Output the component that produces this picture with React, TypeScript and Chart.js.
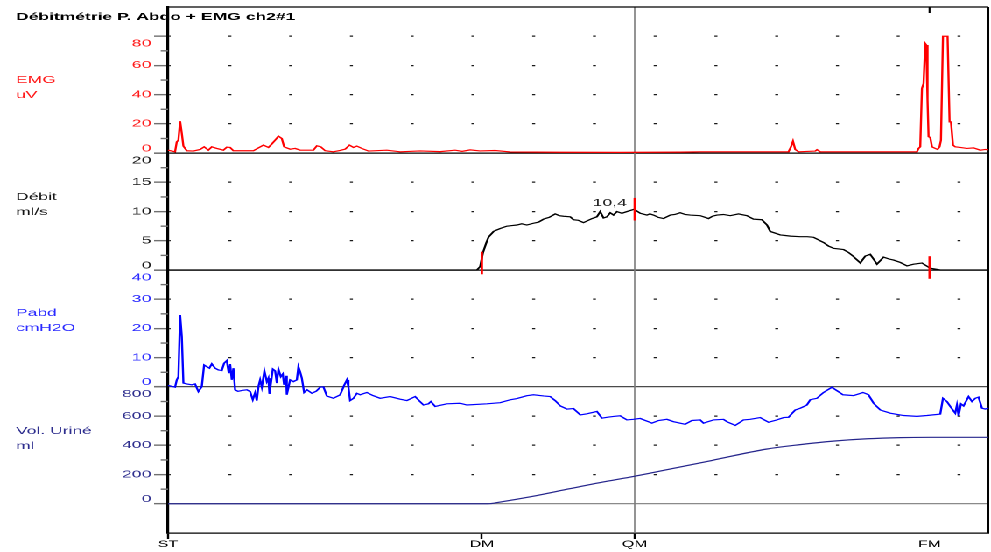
import { useEffect, useRef } from 'react';
import { Chart, registerables } from 'chart.js';

Chart.register(...registerables);

// ---------- data ----------
const TITLE = 'Débitmétrie P. Abdo + EMG ch2#1';
const X_MIN = 0;
const X_MAX = 135;
const GRID_STEP = 10;
const X_MARK_LABELS = ['ST', 'DM', 'QM', 'FM'];
const X_MARK_TIMES = [0, 51.65, 76.8, 125.33];

const EMG_T = [0, 1.15, 1.43, 1.70, 1.98, 2.26, 2.52, 3.08, 4.17, 5.27, 5.93, 6.63, 7.19, 8.02, 9.10, 9.66, 10.21, 10.75, 14.04, 15.69, 16.51, 17.07, 17.62, 18.16, 18.72, 19.10, 20.08, 20.91, 21.73, 23.92, 24.48, 25.14, 25.85, 27.21, 28.32, 29.14, 29.85, 30.51, 31.07, 31.89, 32.98, 36.00, 38.19, 41.49, 44.78, 47.25, 48.40, 49.72, 51.36, 53.83, 56.30, 64.54, 74.41, 84.29, 87.58, 102.12, 102.52, 102.85, 103.22, 103.77, 106.52, 106.80, 107.34, 116.12, 123.26, 123.52, 123.80, 124.08, 124.35, 124.62, 124.79, 125.00, 125.17, 125.45, 125.73, 126.27, 126.65, 126.98, 127.21, 127.54, 128.30, 128.63, 128.86, 129.19, 129.56, 130.39, 131.49, 132.58, 133.68, 134.50, 135];
const EMG_V = [2.0, 0.9, 7.7, 8.9, 21.9, 13.5, 4.8, 1.6, 1.4, 2.5, 4.3, 2.0, 4.3, 3.2, 2.0, 4.1, 3.9, 1.6, 1.6, 5.5, 3.9, 6.2, 8.9, 11.6, 10.0, 4.3, 2.7, 3.2, 2.0, 2.0, 5.0, 4.3, 1.6, 0.9, 1.8, 2.7, 5.5, 3.9, 4.8, 3.2, 1.4, 2.0, 0.9, 1.5, 1.0, 2.0, 1.2, 2.2, 1.5, 1.8, 0.8, 0.6, 0.5, 0.7, 0.9, 0.9, 4.3, 8.2, 2.5, 0.9, 1.4, 2.3, 0.9, 0.9, 0.9, 3.2, 4.3, 44.3, 47.7, 75, 74, 36.3, 11.2, 10.7, 4.3, 3.2, 2.5, 4.3, 8.9, 80, 80, 21.4, 21.4, 5.5, 4.3, 3.9, 3.2, 3.6, 2.0, 2.5, 2.3];

const FLOW_T = [0, 50.82, 51.37, 51.81, 52.35, 52.73, 53.56, 54.66, 55.76, 56.6, 57.41, 58.2, 59.05, 60.14, 61.0, 61.79, 62.7, 63.71, 64.4, 65.08, 66.18, 66.73, 67.5, 68.37, 69.76, 70.58, 71.12, 71.67, 72.23, 72.77, 73.31, 73.87, 74.70, 75.52, 76.72, 77.71, 78.81, 79.3, 79.90, 80.7, 81.54, 82.65, 83.4, 84.29, 85.1, 85.94, 87.59, 88.95, 89.6, 90.34, 91.4, 92.53, 93.89, 95.27, 96.36, 97.74, 98.57, 99.11, 100.76, 101.6, 102.40, 104.05, 105.2, 106.24, 107.89, 108.7, 109.53, 111.18, 112.0, 112.82, 113.93, 114.75, 115.57, 116.68, 117.76, 118.6, 119.41, 120.5, 121.62, 122.70, 124.08, 125.45, 127.10, 135];
const FLOW_V = [0, 0, 0.6, 2.9, 4.6, 5.6, 6.6, 7.1, 7.5, 7.6, 7.7, 7.9, 7.7, 8.0, 8.2, 8.7, 9.0, 9.6, 9.3, 9.2, 9.1, 8.6, 8.5, 8.1, 8.8, 9.1, 10.0, 8.9, 9.1, 9.8, 9.4, 10.0, 9.7, 10.0, 10.4, 9.7, 9.4, 9.6, 9.4, 9.0, 8.8, 9.4, 9.5, 9.8, 9.5, 9.4, 9.3, 8.8, 9.2, 9.4, 9.5, 9.3, 9.6, 9.3, 8.7, 8.6, 7.7, 6.6, 6.0, 5.9, 5.8, 5.7, 5.7, 5.6, 4.7, 4.1, 3.7, 3.5, 3.0, 2.3, 1.2, 2.4, 2.7, 1.0, 2.2, 1.9, 1.7, 1.3, 0.7, 1.0, 1.2, 0.3, 0, 0];

const FLOW_MARK_T = [51.65, 76.8, 125.33];
const FLOW_MARK_V = [1.2, 10.4, 0.43];
const QMAX_T = 76.8;
const QMAX_V = 10.4;
const QMAX_LABEL = '10,4';

const PABD_T = [0, 1.15, 1.43, 1.70, 1.98, 2.26, 2.52, 3.08, 3.90, 4.44, 4.99, 5.55, 5.93, 6.37, 6.80, 7.19, 7.74, 8.28, 8.84, 9.22, 9.66, 9.99, 10.21, 10.49, 10.75, 11.03, 11.52, 12.18, 12.96, 13.50, 13.94, 14.32, 14.60, 14.87, 15.15, 15.43, 15.85, 16.25, 16.51, 16.68, 17.24, 17.62, 17.90, 18.16, 18.55, 18.88, 19.10, 19.43, 19.54, 20.08, 20.63, 21.19, 21.45, 21.73, 22.01, 22.39, 22.88, 23.66, 24.37, 25.02, 25.57, 26.13, 27.21, 28.32, 28.97, 29.42, 29.68, 29.96, 30.51, 31.07, 31.61, 32.71, 33.75, 34.90, 36.55, 38.19, 39.30, 40.66, 42.03, 42.85, 43.25, 43.96, 45.88, 48.07, 49.18, 52.47, 54.66, 56.30, 57.41, 59.05, 60.14, 61.79, 62.89, 63.71, 64.54, 65.64, 66.73, 67.83, 68.93, 70.58, 71.40, 72.23, 73.31, 74.41, 75.52, 76.60, 77.71, 78.81, 79.63, 80.72, 82.10, 83.19, 85.11, 86.22, 87.59, 88.13, 89.77, 91.42, 91.98, 93.35, 94.71, 95.81, 97.46, 98.83, 100.21, 101.30, 102.12, 103.22, 104.05, 105.15, 105.69, 106.80, 107.88, 109.26, 110.09, 111.08, 112.82, 114.37, 115.29, 116.12, 117.22, 118.86, 121.05, 123.26, 124.90, 127.10, 127.54, 128.20, 128.74, 129.56, 129.84, 130.11, 130.50, 130.93, 131.75, 132.31, 132.86, 133.40, 133.96, 134.50, 135];
const PABD_V = [0.5, -0.1, 2.4, 3.5, 24.6, 17.2, 1.3, 1.0, 0.7, 1.0, -1.6, 0.1, 7.5, 6.9, 6.4, 7.9, 6.4, 5.8, 5.6, 8.1, 9.0, 4.7, 7.8, 2.4, 6.4, -1.0, -1.5, -1.2, -1.0, -1.6, -4.4, -2.0, -4.7, 0.1, 2.4, -0.1, 5.5, 1.8, 3.0, -2.4, 6.1, 5.5, 1.3, 6.1, 3.5, 4.4, 0.7, 3.8, -2.7, 2.4, 1.8, 2.4, 6.9, 5.2, 3.0, -1.9, -1.0, -2.2, -1.5, -0.1, 0.0, -3.1, -3.9, -2.7, 0.5, 2.4, 0.0, -4.7, -3.9, -2.2, -2.7, -1.9, -3.0, -3.9, -3.3, -4.2, -4.7, -3.3, -6.2, -5.8, -5.0, -6.7, -5.8, -5.6, -6.2, -5.8, -5.4, -4.4, -4.0, -3.0, -2.7, -3.1, -3.3, -4.7, -6.5, -7.6, -7.4, -9.6, -9.2, -8.4, -10.7, -10.4, -10.1, -9.9, -11.3, -11.1, -10.8, -11.7, -12.4, -11.5, -11.1, -11.9, -12.8, -11.5, -11.3, -12.4, -11.3, -11.1, -11.9, -13.2, -11.3, -11.1, -10.5, -12.1, -11.3, -10.5, -10.4, -7.9, -7.3, -6.2, -4.4, -3.9, -1.9, -0.1, -1.3, -2.7, -3.0, -1.9, -2.7, -5.6, -7.9, -9.0, -9.8, -10.1, -9.8, -9.3, -3.9, -5.0, -6.7, -9.0, -6.2, -9.9, -5.8, -6.5, -3.3, -5.0, -3.9, -3.5, -7.3, -7.6, -7.3];

const VOL_T = [0, 52.68, 54.66, 59.93, 66.10, 71.12, 76.72, 81.50, 89.56, 98.45, 104.05, 109.48, 115.08, 120.51, 125.45, 135];
const VOL_V = [0, 0, 12, 50, 103, 145, 188, 228, 297, 374, 405, 429, 445, 453, 455, 455];

const EMG_TICKS = [0, 20, 40, 60, 80];
const EMG_MINOR = [10, 30, 50, 70];
const FLOW_TICKS = [0, 5, 10, 15, 20];
const FLOW_MINOR = [2.5, 7.5, 12.5, 17.5];
const PABD_TICKS = [0, 10, 20, 30, 40];
const PABD_MINOR = [5, 15, 25, 35];
const VOL_TICKS = [0, 200, 400, 600, 800];
const VOL_MINOR = [100, 300, 500, 700];

// ---------- layout / style ----------
const FONT = "'Liberation Sans', Arial, Helvetica, sans-serif";
const CANVAS_W = 566;
const CANVAS_H = 552;
const STRETCH = 991 / CANVAS_W;
const AXIS_W = 96;
const X_AXIS_H = 19;
const DOT = 1.7;

const PANELS = [
  { id: 'yEmg', min: 0, max: 100, ticks: EMG_TICKS, minor: EMG_MINOR, color: '#ff1a1a', zeroColor: '#000000', stackWeight: 5, weight: 4, label: ['EMG', 'uV'], labelY: 80 },
  { id: 'yFlow', min: 0, max: 20, ticks: FLOW_TICKS, minor: FLOW_MINOR, color: '#151515', zeroColor: '#000000', stackWeight: 4, weight: 3, label: ['Débit', 'ml/s'], labelY: 197.3 },
  { id: 'yPabd', min: 0, max: 40, ticks: PABD_TICKS, minor: PABD_MINOR, color: '#2a2aff', zeroColor: '#4a4a4a', stackWeight: 4, weight: 2, label: ['Pabd', 'cmH2O'], labelY: 313.3 },
  { id: 'yVol', min: -200, max: 800, ticks: VOL_TICKS, minor: VOL_MINOR, color: '#2e2e8e', zeroColor: '#8a8a8a', stackWeight: 5, weight: 1, label: ['Vol. Uriné', 'ml'], labelY: 431 },
];

const pts = (ts: number[], vs: number[]) => ts.map((t, i) => ({ x: t, y: vs[i] }));

function gridPeriod(chart: any) {
  const xs = chart && chart.scales && chart.scales.x;
  if (!xs) return 34.7;
  const p = xs.getPixelForValue(GRID_STEP) - xs.getPixelForValue(0);
  return isFinite(p) && p > 2 ? p : 34.7;
}

function panelAxis(p: any) {
  const top = p.ticks[p.ticks.length - 1];
  const bottom = p.ticks[0];
  return {
    type: 'linear',
    position: 'left',
    stack: 'panels',
    stackWeight: p.stackWeight,
    weight: p.weight,
    min: p.min,
    max: p.max,
    afterBuildTicks: (s: any) => {
      s.ticks = p.ticks.map((v: number) => ({ value: v }));
    },
    afterFit: (s: any) => {
      s.width = AXIS_W;
      s.paddingTop = 0;
      s.paddingBottom = 0;
      s.paddingLeft = 0;
      s.paddingRight = 0;
    },
    ticks: {
      autoSkip: false,
      padding: 1.6,
      color: p.color,
      font: (c: any) => {
        const v = c.tick ? c.tick.value : null;
        return { family: FONT, size: 10, lineHeight: v === top ? 1.5 : v === bottom ? 0.9 : 1.2 };
      },
      callback: (v: number) => (v === top ? ['', String(v)] : v === bottom ? [String(v), ''] : String(v)),
    },
    grid: {
      display: true,
      drawOnChartArea: true,
      drawTicks: true,
      tickLength: 8,
      tickWidth: 1.4,
      tickColor: '#707070',
      color: (c: any) => {
        if (!c.tick) return 'rgba(0,0,0,0)';
        if (c.tick.value === 0) return p.zeroColor;
        if (c.tick.value === p.max) return 'rgba(0,0,0,0)';
        return '#1a1a1a';
      },
      lineWidth: 1.3,
    },
    border: {
      display: true,
      color: '#000000',
      width: 1.6,
      dash: (c: any) => (c.tick && c.tick.value !== 0 ? [DOT, gridPeriod(c.chart) - DOT] : []),
      dashOffset: DOT / 2,
    },
  };
}

const decorPlugin = {
  id: 'decor',
  beforeDatasetsDraw(chart: any) {
    const { ctx, chartArea: a, scales } = chart;
    const seg = (x1: number, y1: number, x2: number, y2: number) => {
      ctx.beginPath();
      ctx.moveTo(x1, y1);
      ctx.lineTo(x2, y2);
      ctx.stroke();
    };
    ctx.save();
    ctx.strokeStyle = '#707070';
    ctx.lineWidth = 1.4;
    for (const p of PANELS) {
      const s = scales[p.id];
      for (const v of p.minor) {
        const y = s.getPixelForValue(v);
        seg(a.left - 4.2, y, a.left, y);
      }
    }
    const xq = scales.x.getPixelForValue(X_MARK_TIMES[2]);
    ctx.strokeStyle = '#7a7a7a';
    ctx.lineWidth = 0.8;
    seg(xq, a.top, xq, a.bottom);
    ctx.strokeStyle = '#000000';
    ctx.lineWidth = 1.3;
    seg(a.left, a.top, a.right, a.top);
    ctx.lineWidth = 1.1;
    seg(a.right, a.top, a.right, a.bottom);
    const xf = scales.x.getPixelForValue(X_MARK_TIMES[3]);
    seg(xf, a.top, xf, a.top + 6);
    ctx.restore();
  },
  afterDraw(chart: any) {
    const { ctx, scales } = chart;
    ctx.save();
    ctx.textBaseline = 'middle';
    ctx.textAlign = 'left';
    ctx.fillStyle = '#000000';
    ctx.font = `bold 10px ${FONT}`;
    ctx.fillText(TITLE, 9.1, 17.3);
    ctx.font = `10px ${FONT}`;
    for (const p of PANELS) {
      ctx.fillStyle = p.color;
      p.label.forEach((line: string, i: number) => ctx.fillText(line, 9.1, p.labelY + i * 15));
    }
    const xq = scales.x.getPixelForValue(QMAX_T);
    const yq = scales.yFlow.getPixelForValue(QMAX_V);
    ctx.textAlign = 'right';
    ctx.fillStyle = '#222222';
    ctx.fillText(QMAX_LABEL, xq - 4.5, yq - 6);
    ctx.restore();
  },
};

export default function App() {
  const ref = useRef<HTMLCanvasElement | null>(null);

  useEffect(() => {
    if (!ref.current) return;
    const scales: any = {
      x: {
        type: 'linear',
        position: 'bottom',
        min: X_MIN,
        max: X_MAX,
        afterBuildTicks: (s: any) => {
          s.ticks = X_MARK_TIMES.map((v) => ({ value: v }));
        },
        afterFit: (s: any) => {
          s.height = X_AXIS_H;
          s.paddingLeft = 0;
          s.paddingRight = 0;
          s.paddingTop = 0;
          s.paddingBottom = 0;
        },
        ticks: {
          autoSkip: false,
          maxRotation: 0,
          minRotation: 0,
          padding: 0,
          color: '#000000',
          font: { family: FONT, size: 9 },
          callback: (_v: number, i: number) => X_MARK_LABELS[i],
        },
        grid: {
          display: true,
          drawOnChartArea: false,
          drawTicks: true,
          tickLength: 6,
          tickWidth: 1.2,
          tickColor: (c: any) => (c.index === 3 ? 'rgba(0,0,0,0)' : '#000000'),
        },
        border: { display: true, color: '#000000', width: 1.3 },
      },
    };
    for (const p of PANELS) scales[p.id] = panelAxis(p);

    const chart = new Chart(ref.current, {
      type: 'line',
      data: {
        datasets: [
          {
            label: 'Repères',
            data: pts(FLOW_MARK_T, FLOW_MARK_V),
            yAxisID: 'yFlow',
            showLine: false,
            clip: false,
            pointStyle: 'line',
            pointRotation: 90,
            pointRadius: 11.3,
            pointBorderColor: '#ff0000',
            pointBorderWidth: 1.3,
            pointBackgroundColor: '#ff0000',
          },
          {
            label: 'EMG',
            data: pts(EMG_T, EMG_V),
            yAxisID: 'yEmg',
            borderColor: '#ff0000',
            borderWidth: 1.2,
            pointRadius: 0,
            tension: 0,
            clip: false,
          },
          {
            label: 'Débit',
            data: pts(FLOW_T, FLOW_V),
            yAxisID: 'yFlow',
            borderColor: '#000000',
            borderWidth: 1.2,
            pointRadius: 0,
            tension: 0,
            clip: false,
          },
          {
            label: 'Pabd',
            data: pts(PABD_T, PABD_V),
            yAxisID: 'yPabd',
            borderColor: '#0000ff',
            borderWidth: 1.2,
            pointRadius: 0,
            tension: 0,
            clip: false,
          },
          {
            label: 'Vol. Uriné',
            data: pts(VOL_T, VOL_V),
            yAxisID: 'yVol',
            borderColor: '#26268c',
            borderWidth: 1.2,
            pointRadius: 0,
            cubicInterpolationMode: 'monotone',
            clip: false,
          },
        ],
      },
      options: {
        responsive: false,
        maintainAspectRatio: false,
        devicePixelRatio: 2,
        animation: false,
        events: [],
        layout: { autoPadding: false, padding: { top: 7, right: CANVAS_W - 988.3 / STRETCH, bottom: 0, left: 0 } },
        plugins: { legend: { display: false }, tooltip: { enabled: false }, title: { display: false } },
        scales,
      },
      plugins: [decorPlugin],
    } as any);
    return () => chart.destroy();
  }, []);

  return (
    <div
      style={{
        position: 'fixed',
        left: 0,
        top: 0,
        width: CANVAS_W,
        height: CANVAS_H,
        background: '#ffffff',
        transform: `scaleX(${STRETCH})`,
        transformOrigin: '0 0',
      }}
    >
      <canvas ref={ref} width={CANVAS_W} height={CANVAS_H} />
    </div>
  );
}
